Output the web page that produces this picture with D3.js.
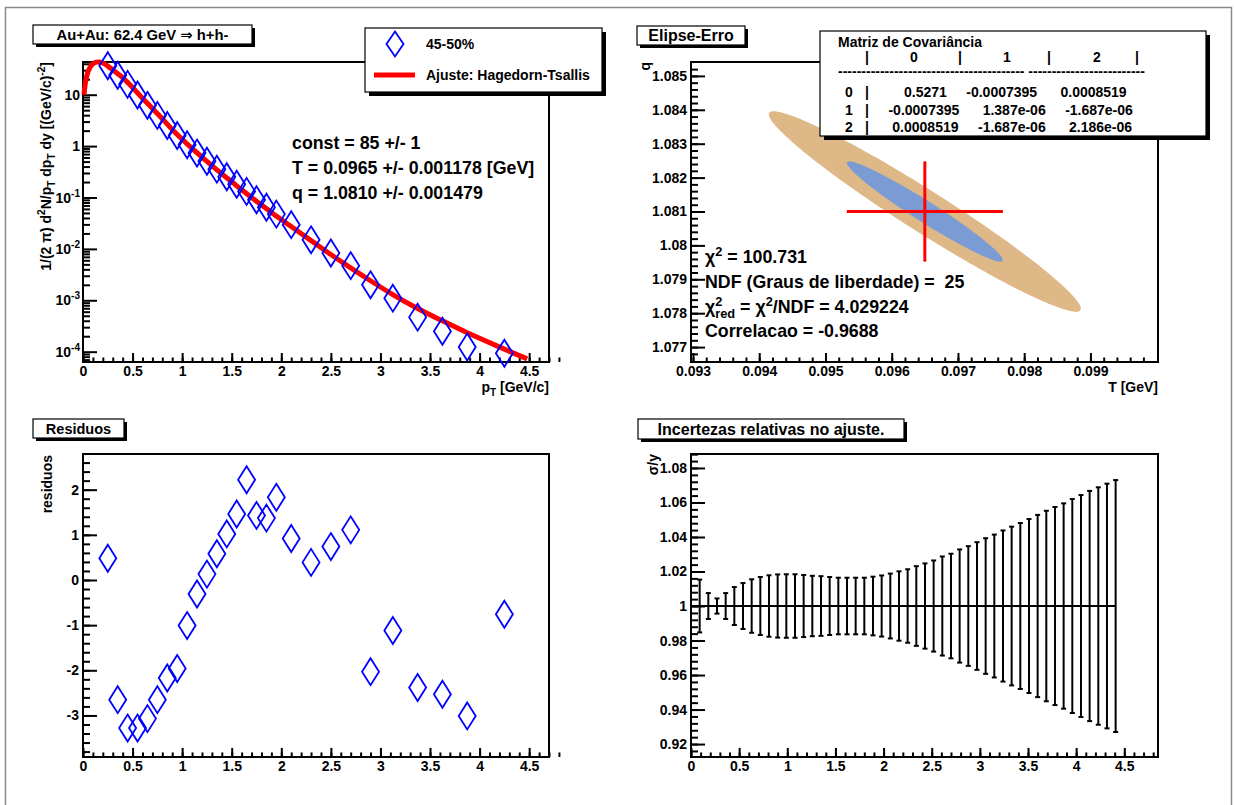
<!DOCTYPE html>
<html>
<head>
<meta charset="utf-8">
<script src="https://cdn.jsdelivr.net/npm/d3@7"></script>
<style>
  body { margin: 0; background: #fff; }
  svg text { font-family: "Liberation Sans", Arial, Helvetica, "DejaVu Sans", sans-serif; font-weight: bold; fill: #000; white-space: pre; }
</style>
</head>
<body>
<svg id="canvas" width="1234" height="805"></svg>
<script>
// ---- spectrum (top left) ----
const specPt  = [0.25,0.35,0.45,0.55,0.65,0.75,0.85,0.95,1.05,1.15,1.25,1.35,1.45,1.55,1.65,1.75,1.85,1.95,
                 2.1,2.3,2.5,2.7,2.9,3.125,3.375,3.625,3.875,4.25];
const specVal = [36.5,23.9,15.9,9.9,6.21,3.96,2.52,1.61,1.06,0.731,0.507,0.356,0.253,0.181,0.1315,0.0904,0.0645,0.0475,
                 0.0296,0.0150,0.00832,0.00472,0.0020,0.0011,4.7e-4,2.5e-4,1.23e-4,9.3e-5];
// Hagedorn-Tsallis fit curve
const fitPt  = [0.01,0.02,0.04,0.07,0.1,0.15,0.2,0.25,0.3,0.4,0.5,0.6,0.7,0.8,0.9,1.0,1.1,1.2,1.3,1.4,1.5,1.6,1.7,1.8,1.9,
                2.0,2.1,2.3,2.5,2.7,2.9,3.125,3.375,3.625,3.875,4.0,4.25,4.48];
const fitVal = [10,15,24,34,40,43.5,41.5,36,30.5,21.5,13.8,8.5,5.4,3.4,2.11,1.36,0.90,0.61,0.417,0.288,0.202,0.141,0.100,0.0716,0.0513,
                0.0372,0.0272,0.0145,0.00776,0.00427,0.0024,0.00129,6.9e-4,3.98e-4,2.34e-4,1.82e-4,1.12e-4,7.24e-5];
const fitText = ["const = 85 +/- 1", "T = 0.0965 +/- 0.001178 [GeV]", "q = 1.0810 +/- 0.001479"];

// ---- residuals (bottom left) ----
const residVal = [0.48,-2.65,-3.28,-3.28,-3.07,-2.65,-2.17,-1.96,-1.01,-0.31,0.13,0.58,1.02,1.46,2.22,1.43,1.37,1.83,
                  0.92,0.39,0.74,1.11,-2.03,-1.12,-2.38,-2.53,-3.01,-0.76];

// ---- error ellipse (top right) ----
const fitT = 0.0965, fitTErr = 0.001178;
const fitQ = 1.0810, fitQErr = 0.001479;
const covHeader = ["0", "1", "2"];
const covRows = [
  ["0", "0.5271", "-0.0007395", "0.0008519"],
  ["1", "-0.0007395", "1.387e-06", "-1.687e-06"],
  ["2", "0.0008519", "-1.687e-06", "2.186e-06"]
];
const sigmaLevels = [2, 1];
const sigmaColors = ["#deb887", "#7b9bd5"];
const chi2 = "100.731", ndf = "25", chi2red = "4.029224", correl = "-0.9688";

// ---- relative uncertainty of the fit (bottom right) ----
const relX = [0,0.09,0.18,0.27,0.36,0.45,0.54,0.63,0.72,0.81,0.90,0.99,1.08,1.17,1.26,1.35,1.44,1.53,1.62,1.71,1.80,
              1.89,1.98,2.07,2.16,2.25,2.34,2.43,2.52,2.61,2.70,2.79,2.88,2.97,3.06,3.15,3.24,3.33,3.42,3.51,3.60,
              3.69,3.78,3.87,3.96,4.05,4.14,4.23,4.32,4.41];
const relErr = [0,0.0153,0.0075,0.0044,0.0075,0.011,0.0133,0.0155,0.0168,0.0178,0.0183,0.0184,0.0184,0.018,0.0175,0.0173,
                0.0168,0.0164,0.0164,0.0164,0.0164,0.017,0.0177,0.0188,0.0201,0.0213,0.0231,0.0247,0.0264,0.0287,0.0303,
                0.0328,0.0347,0.037,0.0393,0.0414,0.0438,0.046,0.0481,0.0504,0.0528,0.0552,0.0574,0.0595,0.062,0.0643,
                0.0667,0.0688,0.0709,0.073];

// tick labels
const ptTicks   = [0,0.5,1,1.5,2,2.5,3,3.5,4,4.5];
const logDecades = [-4,-3,-2,-1,0,1];
const tTicks    = [0.093,0.094,0.095,0.096,0.097,0.098,0.099];
const qTicks    = [1.077,1.078,1.079,1.08,1.081,1.082,1.083,1.084,1.085];
const resTicks  = [-3,-2,-1,0,1,2];
const relTicks  = [0.92,0.94,0.96,0.98,1,1.02,1.04,1.06,1.08];

const svg = d3.select("#canvas");
const TICK_FONT = 14;
const STAT_FONT = 17.8;

// canvas window border
svg.append("rect").attr("x", 5.5).attr("y", 7.5).attr("width", 1226).attr("height", 830)
   .attr("fill", "#fff").attr("stroke", "#8a8a8a").attr("stroke-width", 1.5);

// text with ROOT-like super/subscripts; parts: {t, s:"sup"|"sub", stack}
function rich(parent, x, y, parts, size, anchor, rotate) {
  const g = parent.append("g").attr("transform", `translate(${x},${y})` + (rotate ? ` rotate(${rotate})` : ""));
  const inner = g.append("g");
  let cx = 0, held = 0;
  parts.forEach(p => {
    const small = p.s === "sup" || p.s === "sub";
    const dy = p.s === "sup" ? -size * 0.42 : p.s === "sub" ? size * 0.3 : 0;
    const t = inner.append("text").attr("x", cx).attr("y", dy)
                   .attr("font-size", small ? size * 0.72 : size).text(p.t);
    const w = t.node().getComputedTextLength();
    if (p.stack) { held = w; }
    else { cx += Math.max(w, held); held = 0; }
  });
  if (anchor === "end") inner.attr("transform", `translate(${-cx},0)`);
  if (anchor === "middle") inner.attr("transform", `translate(${-cx / 2},0)`);
  return g;
}

// framed pave with shadow (ROOT TPaveText look)
function pave(parent, x, y, w, h, shadow) {
  parent.append("rect").attr("x", x + shadow).attr("y", y + shadow).attr("width", w).attr("height", h).attr("fill", "#000");
  parent.append("rect").attr("x", x).attr("y", y).attr("width", w).attr("height", h)
        .attr("fill", "#fff").attr("stroke", "#000").attr("stroke-width", 1.2);
}

function titleBox(x, y, w, h, label, size) {
  pave(svg, x, y, w, h, 3);
  svg.append("text").attr("x", x + w / 2).attr("y", y + h / 2 + size * 0.36).attr("text-anchor", "middle")
     .attr("font-size", size).text(label);
}

// frame + inward ticks on bottom and left axes
function frameAxes(g, x, y, opt) {
  const [xa, xb] = x.range(), [yb, ya] = y.range();
  const xt = (yb - ya) * 0.03, yt = (xb - xa) * 0.03;
  const fmt = opt.xFmt || (d => String(d));
  g.append("g").attr("class", "ax").attr("transform", `translate(0,${yb})`)
   .call(d3.axisBottom(x).tickValues(opt.xMinor).tickSize(-xt / 2).tickFormat(""));
  g.append("g").attr("class", "ax").attr("transform", `translate(0,${yb})`)
   .call(d3.axisBottom(x).tickValues(opt.xMajor).tickSize(-xt).tickPadding(4).tickFormat(fmt));
  g.append("g").attr("class", "ax").attr("transform", `translate(${xa},0)`)
   .call(d3.axisLeft(y).tickValues(opt.yMinor).tickSize(-yt / 2).tickFormat(""));
  g.append("g").attr("class", "ax").attr("transform", `translate(${xa},0)`)
   .call(d3.axisLeft(y).tickValues(opt.yMajor).tickSize(-yt).tickPadding(4).tickFormat(opt.yFmt || (d => String(d))));
  g.selectAll(".ax .domain").remove();
  g.selectAll(".ax").attr("font-family", null).attr("font-size", null);
  g.selectAll(".ax line").attr("stroke", "#000").attr("stroke-width", 2);
  g.selectAll(".ax text").attr("font-size", TICK_FONT).attr("fill", "#000");
  g.append("rect").attr("x", xa).attr("y", ya).attr("width", xb - xa).attr("height", yb - ya)
   .attr("fill", "none").attr("stroke", "#000").attr("stroke-width", 2);
}

const diamond = (w, h) => `M0,${-h / 2}L${w / 2},0L0,${h / 2}L${-w / 2},0Z`;
const ptMinor = d3.range(0, 4.85, 0.1);

// ================= top left: spectrum =================
{
  const g = svg.append("g");
  const x = d3.scaleLinear().domain([0, 4.7]).range([83, 549]);
  const y = d3.scaleLog().domain([6.3e-5, 43.3]).range([362, 62]);
  const logMinor = [];
  d3.range(-5, 2).forEach(e => d3.range(2, 10).forEach(k => {
    const v = k * Math.pow(10, e);
    if (v > y.domain()[0] && v < y.domain()[1]) logMinor.push(v);
  }));
  frameAxes(g, x, y, {
    xMajor: ptTicks, xMinor: ptMinor,
    yMajor: logDecades.map(e => Math.pow(10, e)), yMinor: logMinor, yFmt: () => ""
  });
  logDecades.forEach(e => {
    const parts = e === 0 ? [{ t: "1" }] : e === 1 ? [{ t: "10" }] : [{ t: "10" }, { t: String(e), s: "sup" }];
    rich(g, 80, y(Math.pow(10, e)) + 5, parts, TICK_FONT, "end");
  });

  const line = d3.line().x((d, i) => x(fitPt[i])).y(d => y(d)).curve(d3.curveMonotoneX);
  g.append("path").attr("d", line(fitVal)).attr("fill", "none")
   .attr("stroke", "#ff0000").attr("stroke-width", 5).attr("stroke-linejoin", "round");

  g.selectAll(".spec").data(specVal).join("path").attr("class", "spec")
   .attr("transform", (d, i) => `translate(${x(specPt[i])},${y(d)})`)
   .attr("d", diamond(17, 27)).attr("fill", "none").attr("stroke", "#0000ff").attr("stroke-width", 1.8);

  // axis titles
  rich(g, 51, 62, [{ t: "1/(2 π) d" }, { t: "2", s: "sup" }, { t: "N/p" }, { t: "T", s: "sub" }, { t: " dp" },
                   { t: "T", s: "sub" }, { t: " dy [(GeV/c)" }, { t: "-2", s: "sup" }, { t: "]" }], 14, "end", -90);
  rich(g, 549, 392, [{ t: "p" }, { t: "T", s: "sub" }, { t: " [GeV/c]" }], 14, "end");

  // fit parameters
  fitText.forEach((s, i) => g.append("text").attr("x", 292).attr("y", 149 + i * 25).attr("font-size", STAT_FONT).text(s));

  // legend
  pave(g, 365, 28, 237, 64, 4);
  g.append("path").attr("transform", "translate(395,44)").attr("d", diamond(17, 25))
   .attr("fill", "none").attr("stroke", "#0000ff").attr("stroke-width", 1.8);
  g.append("text").attr("x", 426).attr("y", 49).attr("font-size", 14).text("45-50%");
  g.append("line").attr("x1", 374).attr("x2", 415).attr("y1", 75).attr("y2", 75)
   .attr("stroke", "#ff0000").attr("stroke-width", 5);
  g.append("text").attr("x", 426).attr("y", 80).attr("font-size", 14).text("Ajuste: Hagedorn-Tsallis");

  titleBox(33, 25, 219, 19, "Au+Au: 62.4 GeV ⇒ h+h-", 14.8);
}

// ================= top right: error ellipse =================
{
  const g = svg.append("g");
  const x = d3.scaleLinear().domain([0.09297, 0.10002]).range([691, 1158]);
  const y = d3.scaleLinear().domain([1.07656, 1.08541]).range([362, 62]);

  const sT = Math.sqrt(+covRows[1][2]), sQ = Math.sqrt(+covRows[2][3]);
  const rho = +covRows[1][3] / (sT * sQ);
  const angles = d3.range(0, 2 * Math.PI + 1e-6, Math.PI / 120);
  const area = d3.line().x(d => x(d[0])).y(d => y(d[1]));
  sigmaLevels.forEach((n, k) => {
    const pts = angles.map(a => [fitT + n * sT * Math.cos(a),
                                 fitQ + n * sQ * (rho * Math.cos(a) + Math.sqrt(1 - rho * rho) * Math.sin(a))]);
    g.append("path").attr("d", area(pts) + "Z").attr("fill", sigmaColors[k]).attr("stroke", "none");
  });
  g.append("line").attr("x1", x(fitT - fitTErr)).attr("x2", x(fitT + fitTErr)).attr("y1", y(fitQ)).attr("y2", y(fitQ))
   .attr("stroke", "#ff0000").attr("stroke-width", 3);
  g.append("line").attr("x1", x(fitT)).attr("x2", x(fitT)).attr("y1", y(fitQ - fitQErr)).attr("y2", y(fitQ + fitQErr))
   .attr("stroke", "#ff0000").attr("stroke-width", 3);

  frameAxes(g, x, y, {
    xMajor: tTicks, xMinor: d3.range(0.093, 0.09999, 0.0002),
    yMajor: qTicks, yMinor: d3.range(1.0768, 1.0854, 0.0002)
  });
  rich(g, 650, 62, [{ t: "q" }], 14, "end", -90);
  rich(g, 1158, 392, [{ t: "T [GeV]" }], 14, "end");

  rich(g, 705, 263, [{ t: "χ" }, { t: "2", s: "sup" }, { t: " = " + chi2 }], STAT_FONT);
  rich(g, 705, 288, [{ t: "NDF (Graus de liberdade) =  " + ndf }], STAT_FONT);
  rich(g, 705, 313, [{ t: "χ" }, { t: "2", s: "sup", stack: true }, { t: "red", s: "sub" },
                     { t: " = χ" }, { t: "2", s: "sup" }, { t: "/NDF = " + chi2red }], STAT_FONT);
  rich(g, 705, 337, [{ t: "Correlacao = " + correl }], STAT_FONT);

  // covariance matrix pave
  pave(g, 820, 31, 386, 105, 4);
  g.append("text").attr("x", 838).attr("y", 47).attr("font-size", 14).text("Matriz de Covariância");
  const barX = [867, 960, 1049, 1137], colX = [914, 1007, 1097];
  barX.forEach(bx => g.append("text").attr("x", bx).attr("y", 62).attr("text-anchor", "middle").attr("font-size", 14).text("|"));
  covHeader.forEach((h, i) => g.append("text").attr("x", colX[i]).attr("y", 62).attr("text-anchor", "middle").attr("font-size", 14).text(h));
  g.append("text").attr("x", 838).attr("y", 76).attr("font-size", 14).text("-".repeat(40) + " " + "-".repeat(25));
  covRows.forEach((r, i) => {
    const yy = 97 + i * 17.5;
    g.append("text").attr("x", 849).attr("y", yy).attr("text-anchor", "middle").attr("font-size", 14).text(r[0]);
    g.append("text").attr("x", 867).attr("y", yy).attr("text-anchor", "middle").attr("font-size", 14).text("|");
    g.append("text").attr("x", 869).attr("y", yy).attr("font-size", 14)
     .text(r.slice(1).map(c => c.padStart(15, " ")).join(""));
  });

  titleBox(637, 26, 108, 19, "Elipse-Erro", 16);
}

// ================= bottom left: residuals =================
{
  const g = svg.append("g");
  const x = d3.scaleLinear().domain([0, 4.7]).range([83, 549]);
  const y = d3.scaleLinear().domain([-3.92, 2.79]).range([757, 454]);
  frameAxes(g, x, y, {
    xMajor: ptTicks, xMinor: ptMinor,
    yMajor: resTicks, yMinor: d3.range(-3.8, 2.8, 0.2)
  });
  g.selectAll(".res").data(residVal).join("path").attr("class", "res")
   .attr("transform", (d, i) => `translate(${x(specPt[i])},${y(d)})`)
   .attr("d", diamond(17, 27)).attr("fill", "none").attr("stroke", "#0000ff").attr("stroke-width", 1.8);
  rich(g, 52, 455, [{ t: "residuos" }], 14, "end", -90);
  titleBox(33, 419, 91, 19, "Residuos", 14.5);
}

// ================= bottom right: relative uncertainties =================
{
  const g = svg.append("g");
  const x = d3.scaleLinear().domain([0, 4.85]).range([691, 1158]);
  const y = d3.scaleLinear().domain([0.9125, 1.0881]).range([757, 454]);
  frameAxes(g, x, y, {
    xMajor: ptTicks, xMinor: ptMinor,
    yMajor: relTicks, yMinor: d3.range(0.916, 1.088, 0.004)
  });
  const bars = g.append("g").attr("stroke", "#000").attr("stroke-width", 2);
  relErr.forEach((e, i) => {
    if (e <= 0) return;
    const cx = x(relX[i]), top = y(1 + e), bot = y(1 - e);
    bars.append("line").attr("x1", cx).attr("x2", cx).attr("y1", top).attr("y2", bot);
    bars.append("line").attr("x1", cx - 2.5).attr("x2", cx + 2.5).attr("y1", top).attr("y2", top);
    bars.append("line").attr("x1", cx - 2.5).attr("x2", cx + 2.5).attr("y1", bot).attr("y2", bot);
  });
  g.append("path").attr("d", d3.line().x(d => x(d)).y(() => y(1))(relX))
   .attr("fill", "none").attr("stroke", "#000").attr("stroke-width", 2);
  rich(g, 658, 454, [{ t: "σ/y" }], 14, "end", -90);
  titleBox(638, 419, 266, 20, "Incertezas relativas no ajuste.", 16);
}
</script>
</body>
</html>
